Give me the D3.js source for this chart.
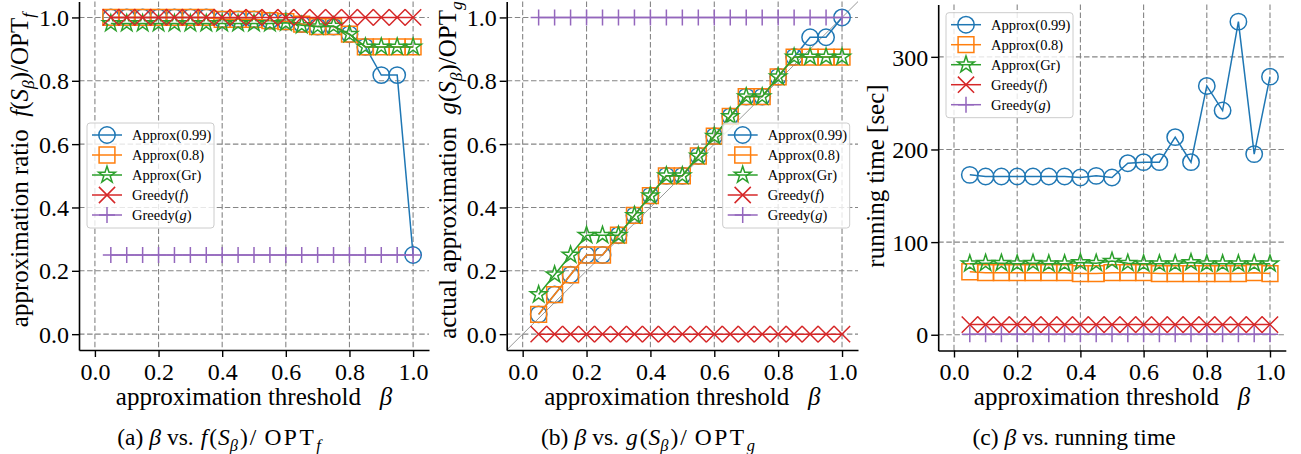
<!DOCTYPE html>
<html>
<head>
<meta charset="utf-8">
<script src="https://cdn.jsdelivr.net/npm/d3@7"></script>
<style>
  body { margin: 0; background: #fff; }
  svg { display: block; font-family: "Liberation Serif", "DejaVu Serif", serif; }
</style>
</head>
<body>
<svg id="chart" width="1301" height="454"></svg>
<script>
// --- Data ---
const BETA = [0.05, 0.10, 0.15, 0.20, 0.25, 0.30, 0.35, 0.40, 0.45, 0.50,
              0.55, 0.60, 0.65, 0.70, 0.75, 0.80, 0.85, 0.90, 0.95, 1.00];

const X_TICKS = [0.0, 0.2, 0.4, 0.6, 0.8, 1.0];
const Y_TICKS_RATIO = [0.0, 0.2, 0.4, 0.6, 0.8, 1.0];
const Y_TICKS_TIME = [0, 100, 200, 300];

const SERIES_LABELS = ["Approx(0.99)", "Approx(0.8)", "Approx(Gr)", "Greedy(f)", "Greedy(g)"];

// (a) f(S_beta)/OPT_f
const F_APPROX99 = [1.0, 1.0, 1.0, 1.0, 1.0, 1.0, 1.0, 0.994, 0.994, 0.994, 0.99, 0.987, 0.979, 0.971, 0.971, 0.947, 0.907, 0.818, 0.818, 0.25];
const F_APPROX08 = [1.0, 1.0, 1.0, 1.0, 1.0, 1.0, 1.0, 0.994, 0.994, 0.994, 0.99, 0.987, 0.979, 0.971, 0.971, 0.947, 0.907, 0.907, 0.907, 0.907];
const F_APPROXGR = [0.981, 0.981, 0.981, 0.981, 0.981, 0.981, 0.981, 0.981, 0.981, 0.981, 0.981, 0.983, 0.975, 0.971, 0.973, 0.947, 0.907, 0.907, 0.907, 0.907];
const F_GREEDYF = [1, 1, 1, 1, 1, 1, 1, 1, 1, 1, 1, 1, 1, 1, 1, 1, 1, 1, 1, 1];
const F_GREEDYG = [0.25, 0.25, 0.25, 0.25, 0.25, 0.25, 0.25, 0.25, 0.25, 0.25, 0.25, 0.25, 0.25, 0.25, 0.25, 0.25, 0.25, 0.25, 0.25, 0.25];

// (b) g(S_beta)/OPT_g
const G_APPROX99 = [0.0625, 0.125, 0.1875, 0.25, 0.25, 0.3125, 0.375, 0.4375, 0.5, 0.5, 0.5625, 0.625, 0.6875, 0.75, 0.75, 0.8125, 0.875, 0.9375, 0.9375, 1.0];
const G_APPROX08 = [0.0625, 0.125, 0.1875, 0.25, 0.25, 0.3125, 0.375, 0.4375, 0.5, 0.5, 0.5625, 0.625, 0.6875, 0.75, 0.75, 0.8125, 0.875, 0.875, 0.875, 0.875];
const G_APPROXGR = [0.125, 0.1875, 0.25, 0.3125, 0.3125, 0.3125, 0.375, 0.4375, 0.5, 0.5, 0.5625, 0.625, 0.6875, 0.75, 0.75, 0.8125, 0.875, 0.875, 0.875, 0.875];
const G_GREEDYF = [0, 0, 0, 0, 0, 0, 0, 0, 0, 0, 0, 0, 0, 0, 0, 0, 0, 0, 0, 0];
const G_GREEDYG = [1, 1, 1, 1, 1, 1, 1, 1, 1, 1, 1, 1, 1, 1, 1, 1, 1, 1, 1, 1];
const G_DIAGONAL = [-0.05, 1.05];

// (c) running time [sec]
const T_APPROX99 = [172.6, 170.8, 170.8, 170.8, 170.8, 170.8, 170.8, 169.7, 171.5, 169.7, 185.2, 186.3, 186.3, 213.3, 186.3, 268.6, 242, 338, 195, 278.6];
const T_APPROX08 = [68, 67, 67, 67, 67, 67, 67, 66, 66, 67, 67, 67, 66, 66, 66, 66, 66, 66, 67, 66];
const T_APPROXGR = [76.6, 77.3, 77.3, 76.6, 77.3, 76.6, 76.6, 78, 77.3, 79.5, 77.3, 76.6, 76.6, 76.6, 78, 76.6, 76.6, 76.6, 76.6, 76.6];
const T_GREEDYF = [11, 11, 11, 11, 11, 11, 11, 11, 11, 11, 11, 11, 11, 11, 11, 11, 11, 11, 11, 11];
const T_GREEDYG = [0.5, 0.5, 0.5, 0.5, 0.5, 0.5, 0.5, 0.5, 0.5, 0.5, 0.5, 0.5, 0.5, 0.5, 0.5, 0.5, 0.5, 0.5, 0.5, 0.5];

// --- Style ---
const COLORS = ["#1f77b4", "#ff7f0e", "#2ca02c", "#d62728", "#9467bd"];
const MARKERS = ["circle", "square", "star", "x", "plus"];
const TICK_FONT = 24;
const LABEL_FONT = 25;
const CAPTION_FONT = 23.5;
const LEGEND_FONT = 14.5;

// --- Marker paths ---
function markerPath(type, r) {
    if (type === "circle") {
        return `M${r},0A${r},${r} 0 1,1 ${-r},0A${r},${r} 0 1,1 ${r},0Z`;
    }
    if (type === "square") {
        return `M${-r},${-r}H${r}V${r}H${-r}Z`;
    }
    if (type === "x") {
        const a = r * 0.75;
        return `M${-a},${-a}L${a},${a}M${-a},${a}L${a},${-a}`;
    }
    if (type === "plus") {
        return `M${-r},0H${r}M0,${-r}V${r}`;
    }
    // five pointed star, matplotlib inner ratio
    const inner = r * 0.382;
    let d = "";
    for (let i = 0; i < 10; i++) {
        const rad = i % 2 === 0 ? r : inner;
        const ang = -Math.PI / 2 + i * Math.PI / 5;
        d += (i === 0 ? "M" : "L") + (rad * Math.cos(ang)).toFixed(2) + "," + (rad * Math.sin(ang)).toFixed(2);
    }
    return d + "Z";
}

const MARKER_R = { circle: 8.2, square: 7.9, star: 8.8, x: 10.8, plus: 8 };

// rich text with italic / subscript parts (dx = extra gap, ls = letter spacing)
function addRich(sel, parts, size) {
    let shift = 0;
    parts.forEach(p => {
        const s = p.sub ? size * 0.24 : 0;
        const ts = sel.append("tspan")
            .attr("dy", s - shift)
            .attr("font-size", p.sub ? size * 0.7 : size)
            .attr("font-style", p.it ? "italic" : "normal")
            .text(p.t);
        if (p.dx) ts.attr("dx", p.dx);
        if (p.ls) ts.attr("letter-spacing", p.ls);
        shift = s;
    });
}

const svg = d3.select("#chart");

function renderPanel(cfg) {
    const x = d3.scaleLinear().domain([-0.05, 1.05]).range([cfg.left, cfg.right]);
    const y = d3.scaleLinear().domain(cfg.yDomain).range([cfg.bottom, cfg.top]);
    const g = svg.append("g");

    // grid
    const grid = g.append("g")
        .attr("stroke", "#858585")
        .attr("stroke-width", 1.1)
        .attr("stroke-dasharray", "5.5,2.6");
    grid.selectAll(".gx").data(X_TICKS).join("line")
        .attr("x1", d => x(d)).attr("x2", d => x(d))
        .attr("y1", cfg.top).attr("y2", cfg.bottom);
    grid.selectAll(".gy").data(cfg.yTicks).join("line")
        .attr("class", "gy")
        .attr("x1", cfg.left).attr("x2", cfg.right)
        .attr("y1", d => y(d)).attr("y2", d => y(d));

    if (cfg.diagonal) {
        g.append("line")
            .attr("x1", x(cfg.diagonal[0])).attr("y1", y(cfg.diagonal[0]))
            .attr("x2", x(cfg.diagonal[1])).attr("y2", y(cfg.diagonal[1]))
            .attr("stroke", "#999").attr("stroke-width", 1);
    }

    // series
    const line = d3.line().x((d, i) => x(BETA[i])).y(d => y(d));
    cfg.series.forEach((vals, si) => {
        const sg = g.append("g");
        sg.append("path")
            .attr("d", line(vals))
            .attr("fill", "none")
            .attr("stroke", COLORS[si])
            .attr("stroke-width", 1.5);
        sg.selectAll("path.m").data(vals).join("path")
            .attr("class", "m")
            .attr("transform", (d, i) => `translate(${x(BETA[i])},${y(d)})`)
            .attr("d", markerPath(MARKERS[si], MARKER_R[MARKERS[si]]))
            .attr("fill", "none")
            .attr("stroke", COLORS[si])
            .attr("stroke-width", 1.5);
    });

    // axes
    const xAxis = d3.axisBottom(x).tickValues(X_TICKS).tickFormat(d3.format(".1f"))
        .tickSize(7).tickSizeOuter(0);
    const xg = g.append("g").attr("transform", `translate(0,${cfg.bottom})`).call(xAxis);
    xg.selectAll("text").attr("y", 29.5).attr("dy", 0)
        .style("font-family", "Liberation Serif").style("font-size", TICK_FONT + "px").attr("fill", "#000");

    const yAxis = d3.axisLeft(y).tickValues(cfg.yTicks).tickFormat(cfg.yFormat)
        .tickSize(7).tickPadding(3).tickSizeOuter(0);
    const yg = g.append("g").attr("transform", `translate(${cfg.left},0)`).call(yAxis);
    yg.selectAll("text").attr("dy", "0.34em")
        .style("font-family", "Liberation Serif").style("font-size", TICK_FONT + "px").attr("fill", "#000");

    [xg, yg].forEach(a => {
        a.select(".domain").attr("stroke", "#000").attr("stroke-width", 1.6);
        a.selectAll(".tick line").attr("stroke", "#000").attr("stroke-width", 1.4);
    });

    // axis labels
    const xl = g.append("text")
        .attr("x", (cfg.left + cfg.right) / 2)
        .attr("y", 405)
        .attr("text-anchor", "middle");
    addRich(xl, [{ t: "approximation threshold\u00A0\u00A0\u00A0" }, { t: "β", it: true }], LABEL_FONT);

    const yl = g.append("text")
        .attr("transform", `translate(${cfg.ylabelX},${cfg.ylabelY}) rotate(-90)`)
        .attr("text-anchor", "middle");
    addRich(yl, cfg.ylabel, LABEL_FONT);

    // caption
    const cap = g.append("text")
        .attr("x", cfg.captionX)
        .attr("y", 445)
        .attr("text-anchor", "middle");
    addRich(cap, cfg.caption, CAPTION_FONT);

    // legend
    const lg = g.append("g").attr("transform", `translate(${cfg.legend[0]},${cfg.legend[1]})`);
    lg.append("rect")
        .attr("width", 127).attr("height", 105)
        .attr("rx", 3)
        .attr("fill", "#fff").attr("fill-opacity", 0.8)
        .attr("stroke", "#cccccc").attr("stroke-width", 1);
    SERIES_LABELS.forEach((name, si) => {
        const ry = 12 + si * 20;
        lg.append("line")
            .attr("x1", 5).attr("x2", 35).attr("y1", ry).attr("y2", ry)
            .attr("stroke", COLORS[si]).attr("stroke-width", 1.5);
        lg.append("path")
            .attr("transform", `translate(20,${ry})`)
            .attr("d", markerPath(MARKERS[si], MARKER_R[MARKERS[si]]))
            .attr("fill", "none").attr("stroke", COLORS[si]).attr("stroke-width", 1.5);
        const t = lg.append("text").attr("x", 45).attr("y", ry + 5);
        const m = name.match(/^Greedy\((.)\)$/);
        if (m) {
            addRich(t, [{ t: "Greedy(" }, { t: m[1], it: true }, { t: ")" }], LEGEND_FONT);
        } else {
            addRich(t, [{ t: name }], LEGEND_FONT);
        }
    });
}

function mathCaption(letter, fn) {
    return [{ t: "(" + letter + ")" }, { t: "β", it: true, dx: 6 }, { t: "vs.", dx: 6 },
            { t: fn, it: true, dx: 7 }, { t: "(", dx: 2 }, { t: "S", it: true, dx: 1 },
            { t: "β", it: true, sub: true }, { t: ")", dx: 2 }, { t: "/", dx: 2 },
            { t: "OPT", dx: 8, ls: 2.5 }, { t: fn, it: true, sub: true }];
}

renderPanel({
    left: 79, right: 429, top: 1.6, bottom: 350,
    yDomain: [-0.05, 1.05], yTicks: Y_TICKS_RATIO, yFormat: d3.format(".1f"),
    series: [F_APPROX99, F_APPROX08, F_APPROXGR, F_GREEDYF, F_GREEDYG],
    ylabelX: 28, ylabelY: 170,
    ylabel: [{ t: "approximation ratio\u00A0\u00A0" }, { t: "f", it: true }, { t: "(" }, { t: "S", it: true },
             { t: "β", it: true, sub: true }, { t: ")/OPT" }, { t: "f", it: true, sub: true }],
    captionX: 219,
    caption: mathCaption("a", "f"),
    legend: [87, 123]
});

renderPanel({
    left: 506.7, right: 858, top: 1.6, bottom: 350,
    yDomain: [-0.05, 1.05], yTicks: Y_TICKS_RATIO, yFormat: d3.format(".1f"),
    series: [G_APPROX99, G_APPROX08, G_APPROXGR, G_GREEDYF, G_GREEDYG],
    diagonal: G_DIAGONAL,
    ylabelX: 456, ylabelY: 170,
    ylabel: [{ t: "actual approximation\u00A0\u00A0" }, { t: "g", it: true }, { t: "(" }, { t: "S", it: true },
             { t: "β", it: true, sub: true }, { t: ")/OPT" }, { t: "g", it: true, sub: true }],
    captionX: 648,
    caption: mathCaption("b", "g"),
    legend: [722.7, 123]
});

renderPanel({
    left: 938.2, right: 1285.8, top: 4.5, bottom: 350.5,
    yDomain: [-17, 356.5], yTicks: Y_TICKS_TIME, yFormat: d3.format("d"),
    series: [T_APPROX99, T_APPROX08, T_APPROXGR, T_GREEDYF, T_GREEDYG],
    ylabelX: 884, ylabelY: 176,
    ylabel: [{ t: "running time [sec]" }],
    captionX: 1074,
    caption: [{ t: "(c)" }, { t: "β", it: true, dx: 6 }, { t: "vs. running time", dx: 6 }],
    legend: [946, 12.7]
});
</script>
</body>
</html>
